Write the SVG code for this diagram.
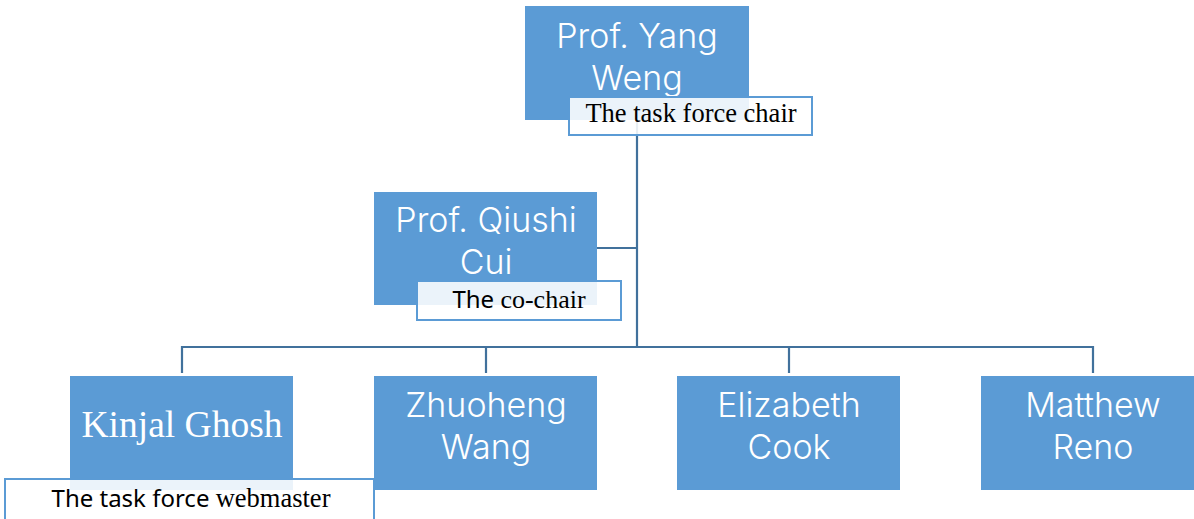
<svg xmlns="http://www.w3.org/2000/svg" width="1194" height="519" viewBox="0 0 1194 519">
<style>
.node{fill:#5B9BD5}
.lbl{fill:#FFFFFF;fill-opacity:0.88;stroke:#5B9BD5;stroke-width:2}
.name{font-family:Inter,Lato,sans-serif;font-weight:300;font-size:34px;fill:#FFFFFF;text-anchor:middle}
.ser{font-family:"Liberation Serif","Times New Roman",serif}
.sans{font-family:"Noto Sans","Open Sans",sans-serif}
.cap{font-size:26.5px;fill:#000000;text-anchor:middle}
.con{fill:none;stroke:#41719C;stroke-width:2.2}
</style>
<rect width="1194" height="519" fill="#FFFFFF"/>
<g id="connectors">
<path class="con" d="M637 120V347"/>
<path class="con" d="M597 248H637"/>
<path class="con" d="M182 373V347H1093V373"/>
<path class="con" d="M486 347V373"/>
<path class="con" d="M789 347V373"/>
</g>
<g id="node-yang">
<rect class="node" x="525" y="6" width="224" height="114"/>
<text class="name"><tspan x="637" y="48">Prof. Yang</tspan><tspan x="637" y="90">Weng</tspan></text>
<rect class="lbl" x="569" y="97" width="243" height="38"/>
<text class="cap ser" x="691" y="122">The task force chair</text>
</g>
<g id="node-qiushi">
<rect class="node" x="374" y="192" width="223" height="113"/>
<text class="name"><tspan x="486" y="232">Prof. Qiushi</tspan><tspan x="486" y="274">Cui</tspan></text>
<rect class="lbl" x="417" y="281" width="204" height="39"/>
<text class="cap" x="519" y="308"><tspan class="sans" font-size="24">The </tspan><tspan class="ser" font-size="26">co-chair</tspan></text>
</g>
<g id="node-kinjal">
<rect class="node" x="70" y="376" width="223" height="114"/>
<text class="ser" x="182" y="437" font-size="37.5" fill="#FFFFFF" text-anchor="middle">Kinjal Ghosh</text>
<rect class="lbl" x="5" y="479" width="369" height="50"/>
<text class="cap" x="191" y="507"><tspan class="sans" font-size="24">The task force </tspan><tspan class="ser" font-size="26.5">webmaster</tspan></text>
</g>
<g id="node-zhuoheng">
<rect class="node" x="374" y="376" width="223" height="114"/>
<text class="name"><tspan x="486" y="417">Zhuoheng</tspan><tspan x="486" y="459">Wang</tspan></text>
</g>
<g id="node-elizabeth">
<rect class="node" x="677" y="376" width="223" height="114"/>
<text class="name"><tspan x="789" y="417">Elizabeth</tspan><tspan x="789" y="459">Cook</tspan></text>
</g>
<g id="node-matthew">
<rect class="node" x="981" y="376" width="223" height="114"/>
<text class="name"><tspan x="1093" y="417">Matthew</tspan><tspan x="1093" y="459">Reno</tspan></text>
</g>
</svg>
